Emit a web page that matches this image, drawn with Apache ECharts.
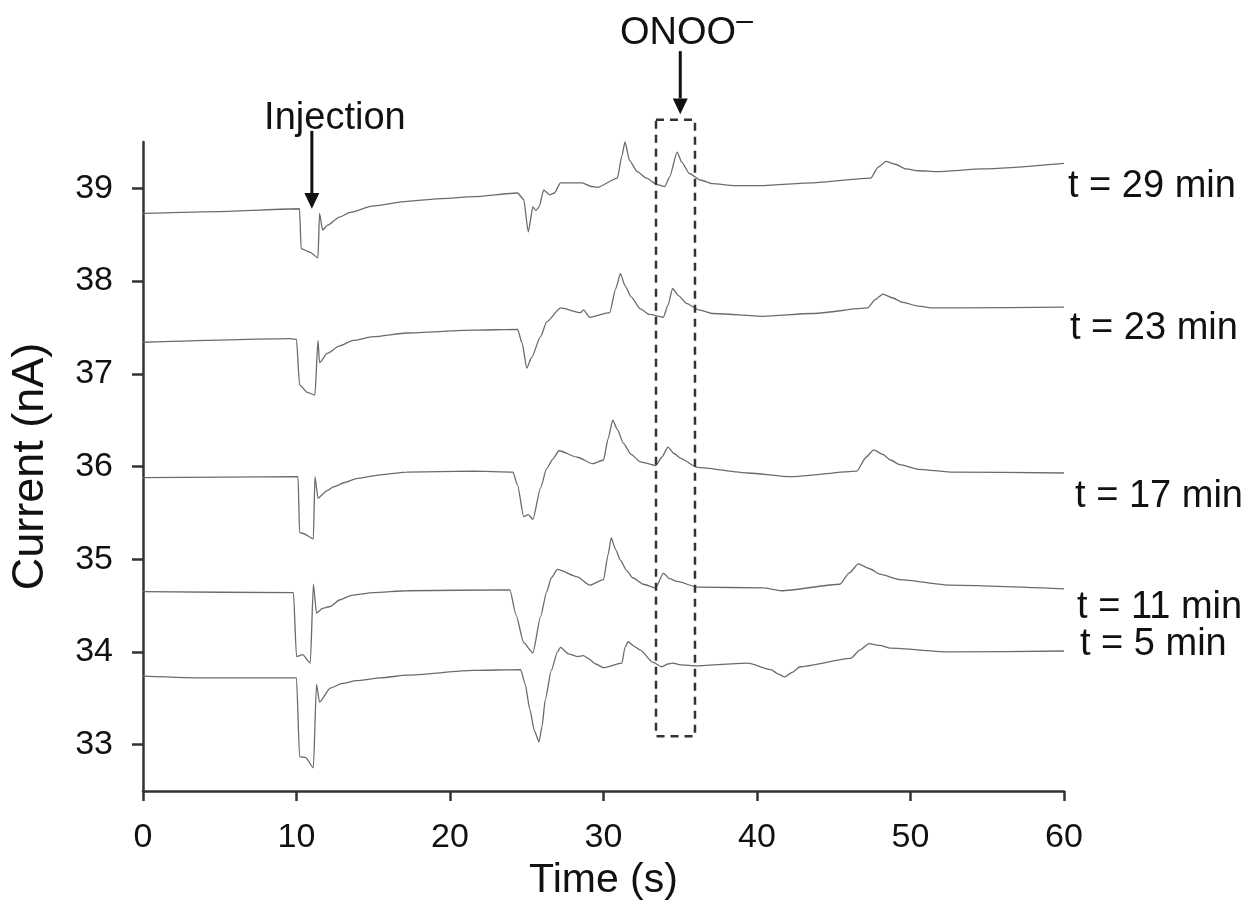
<!DOCTYPE html>
<html>
<head>
<meta charset="utf-8">
<title>Current traces</title>
<script src="https://cdn.jsdelivr.net/npm/echarts@6/dist/echarts.min.js"></script>
<style>
html, body { margin: 0; padding: 0; background: #fff; }
#chart { width: 1255px; height: 924px; }
</style>
</head>
<body>
<div id="chart"></div>
<script>
// values: time (s) and current (nA) for each trace
var time29 = [0, 5, 10.2, 10.3, 10.9, 11.4, 11.5, 11.7, 12.0, 12.8, 13.5, 15.0, 17.2, 19.5, 21.5, 24.4, 24.8, 25.1, 25.4, 25.6, 25.8, 26.1, 26.5, 26.8, 27.2, 28.6, 29.2, 29.6, 30.9, 31.2, 31.4, 31.7, 32.2, 32.8, 33.5, 34.0, 34.3, 34.8, 35.1, 35.6, 36.3, 37.1, 38.5, 40.4, 43.6, 47.4, 47.9, 48.4, 49.0, 49.7, 50.5, 51.7, 54.7, 60];
var cur29  = [38.73, 38.75, 38.78, 38.35, 38.31, 38.25, 38.73, 38.55, 38.60, 38.69, 38.74, 38.81, 38.86, 38.89, 38.91, 38.95, 38.88, 38.53, 38.80, 38.76, 38.80, 38.98, 38.93, 38.95, 39.06, 39.06, 39.02, 39.01, 39.11, 39.35, 39.50, 39.30, 39.18, 39.11, 39.04, 39.02, 39.12, 39.39, 39.28, 39.16, 39.09, 39.05, 39.03, 39.03, 39.06, 39.11, 39.23, 39.29, 39.26, 39.21, 39.19, 39.18, 39.21, 39.27];

var time23 = [0, 9.6, 10.0, 10.2, 10.7, 11.2, 11.4, 11.5, 12.0, 12.8, 13.7, 15.0, 17.2, 21.5, 24.4, 24.7, 25.0, 25.3, 25.9, 26.3, 27.2, 28.5, 28.7, 29.1, 30.4, 30.8, 31.1, 31.4, 31.8, 32.4, 33.0, 33.9, 34.2, 34.5, 34.9, 35.4, 36.2, 37.1, 40.4, 43.6, 47.2, 47.7, 48.2, 48.8, 49.5, 50.5, 51.5, 53.0, 60];
var cur23  = [37.34, 37.38, 37.37, 36.88, 36.80, 36.77, 37.36, 37.12, 37.22, 37.30, 37.36, 37.40, 37.44, 37.47, 37.48, 37.33, 37.06, 37.17, 37.40, 37.56, 37.71, 37.66, 37.69, 37.61, 37.66, 37.92, 38.08, 37.95, 37.83, 37.70, 37.64, 37.61, 37.74, 37.92, 37.84, 37.76, 37.69, 37.65, 37.62, 37.65, 37.71, 37.80, 37.86, 37.82, 37.77, 37.73, 37.71, 37.71, 37.72];

var time17 = [0, 10.1, 10.2, 10.4, 11.1, 11.2, 11.4, 12.0, 12.4, 13.2, 13.9, 15.5, 17.2, 21.5, 24.1, 24.4, 24.8, 25.1, 25.4, 25.9, 26.3, 26.7, 27.1, 28.3, 29.3, 30.0, 30.3, 30.6, 30.9, 31.3, 31.8, 32.4, 33.4, 33.8, 34.2, 34.6, 35.0, 36.1, 39.4, 42.2, 46.5, 47.1, 47.6, 48.2, 48.7, 49.3, 50.5, 52.6, 60];
var cur17  = [35.88, 35.89, 35.29, 35.28, 35.22, 35.89, 35.66, 35.74, 35.78, 35.83, 35.87, 35.91, 35.94, 35.95, 35.94, 35.80, 35.46, 35.48, 35.43, 35.77, 35.98, 36.08, 36.17, 36.10, 36.03, 36.07, 36.30, 36.50, 36.40, 36.25, 36.13, 36.05, 36.01, 36.10, 36.21, 36.14, 36.09, 35.99, 35.93, 35.89, 35.95, 36.10, 36.18, 36.13, 36.07, 36.02, 35.97, 35.94, 35.93];

var time11 = [0, 9.8, 10.0, 10.4, 10.9, 11.1, 11.3, 11.7, 12.2, 12.8, 13.6, 15.0, 17.2, 23.9, 24.3, 24.8, 25.4, 25.9, 26.3, 26.6, 27.0, 28.3, 29.1, 30.0, 30.3, 30.5, 30.8, 31.1, 31.5, 31.9, 32.6, 33.4, 33.9, 34.3, 34.8, 36.1, 40.4, 41.6, 45.4, 46.0, 46.6, 47.3, 48.0, 49.3, 52.6, 60];
var cur11  = [34.65, 34.64, 33.95, 33.97, 33.88, 34.73, 34.42, 34.47, 34.49, 34.56, 34.61, 34.64, 34.66, 34.67, 34.40, 34.10, 33.99, 34.38, 34.65, 34.80, 34.89, 34.81, 34.72, 34.78, 35.05, 35.23, 35.10, 34.99, 34.88, 34.80, 34.73, 34.69, 34.85, 34.79, 34.76, 34.70, 34.69, 34.66, 34.73, 34.85, 34.95, 34.90, 34.84, 34.78, 34.72, 34.68];

var time5 = [0, 4.2, 10.0, 10.2, 10.6, 11.1, 11.3, 11.5, 12.2, 13.0, 13.9, 15.5, 17.2, 21.5, 24.6, 24.9, 25.2, 25.5, 25.8, 26.0, 26.2, 26.6, 27.0, 27.2, 27.7, 28.3, 28.7, 29.0, 29.5, 30.0, 31.2, 31.4, 31.6, 32.0, 32.4, 33.2, 33.8, 34.2, 34.5, 35.0, 36.1, 39.4, 40.9, 41.4, 41.8, 42.3, 42.8, 46.1, 46.7, 47.3, 48.0, 48.7, 52.6, 60];
var cur5  = [33.74, 33.72, 33.72, 32.87, 32.86, 32.75, 33.65, 33.46, 33.61, 33.66, 33.69, 33.72, 33.75, 33.80, 33.81, 33.65, 33.38, 33.15, 33.03, 33.20, 33.48, 33.80, 34.00, 34.05, 33.98, 33.95, 33.96, 33.93, 33.87, 33.83, 33.88, 34.05, 34.11, 34.06, 34.02, 33.89, 33.84, 33.87, 33.88, 33.86, 33.85, 33.88, 33.81, 33.76, 33.73, 33.78, 33.84, 33.93, 34.02, 34.09, 34.07, 34.04, 34.00, 34.01];

var yTicks = [33, 34, 35, 36, 37, 38, 39];
var traceNames = ['t = 29 min', 't = 23 min', 't = 17 min', 't = 11 min', 't = 5 min'];

var FONT = '"Liberation Sans", Arial, sans-serif';

function pairs(t, c) {
  var out = [];
  for (var i = 0; i < t.length; i++) out.push([t[i], c[i]]);
  return out;
}

var traces = [pairs(time29, cur29), pairs(time23, cur23), pairs(time17, cur17), pairs(time11, cur11), pairs(time5, cur5)];

var chart = echarts.init(document.getElementById('chart'));

var series = traces.map(function (d, i) {
  return {
    name: traceNames[i],
    type: 'line',
    data: d,
    showSymbol: false,
    clip: false,
    smooth: 0.2,
    smoothMonotone: 'x',
    lineStyle: { color: '#6b6b6b', width: 1.3 }
  };
});

var axisColor = '#333';

chart.setOption({
  animation: false,
  grid: { left: 143, right: 191, top: 142, bottom: 133 },
  xAxis: {
    type: 'value',
    min: 0,
    max: 60,
    interval: 10,
    name: 'Time (s)',
    nameLocation: 'middle',
    nameGap: 68,
    nameTextStyle: { fontFamily: FONT, fontSize: 41, color: '#111' },
    axisLine: { show: true, lineStyle: { color: axisColor, width: 2.5 } },
    axisTick: { show: true, inside: false, length: 10, lineStyle: { color: axisColor, width: 2.5 } },
    axisLabel: { fontFamily: FONT, fontSize: 34, color: '#111', margin: 30 },
    splitLine: { show: false }
  },
  yAxis: {
    type: 'value',
    min: 32.5,
    max: 39.5,
    name: 'Current (nA)',
    nameLocation: 'middle',
    nameRotate: 90,
    nameGap: 90,
    nameTextStyle: { fontFamily: FONT, fontSize: 45, color: '#111' },
    axisLine: { show: true, lineStyle: { color: axisColor, width: 2.5 } },
    axisTick: { show: true, inside: false, length: 11, customValues: yTicks, lineStyle: { color: axisColor, width: 2.5 } },
    axisLabel: { fontFamily: FONT, fontSize: 34, color: '#111', margin: 30, customValues: yTicks },
    splitLine: { show: false }
  },
  series: series
});

// annotations, placed through the axes' own scales
function px(x, y) { return chart.convertToPixel({ gridIndex: 0 }, [x, y]); }

function arrow(x, yTop, yHead, yTip) {
  var a = px(x, yTop), b = px(x, yHead), c = px(x, yTip);
  return [
    { type: 'line', shape: { x1: a[0], y1: a[1], x2: b[0], y2: b[1] }, style: { stroke: '#111', lineWidth: 3 } },
    { type: 'polygon', shape: { points: [[b[0] - 7.5, b[1]], [b[0] + 7.5, b[1]], [c[0], c[1]]] }, style: { fill: '#111' } }
  ];
}

function label(text, x, y, align) {
  var p = px(x, y);
  return {
    type: 'text', x: p[0], y: p[1],
    style: { text: text, fontFamily: FONT, fontSize: 38, fill: '#111', align: align || 'center', verticalAlign: 'middle' }
  };
}

var g = [];
g = g.concat(arrow(11.0, 39.62, 38.95, 38.78));
g = g.concat(arrow(35.0, 40.48, 39.97, 39.80));
var r1 = px(33.42, 39.74), r2 = px(35.96, 33.09);
g.push({
  type: 'rect',
  shape: { x: r1[0], y: r1[1], width: r2[0] - r1[0], height: r2[1] - r1[1] },
  style: { fill: 'none', stroke: '#333', lineWidth: 2.5, lineDash: [8, 6] }
});
g.push(label('Injection', 12.5, 39.75));
g.push(label('ONOO', 34.85, 40.67));
var m = px(38.65, 40.80);
g.push({ type: 'text', x: m[0], y: m[1], style: { text: '\u2013', fontFamily: FONT, fontSize: 30, fill: '#111', align: 'left', verticalAlign: 'middle' } });

var nameX = [60.26, 60.39, 60.72, 60.85, 61.04];
var nameY = [39.02, 37.49, 35.68, 34.48, 34.08];
for (var i = 0; i < traceNames.length; i++) g.push(label(traceNames[i], nameX[i], nameY[i], 'left'));

chart.setOption({ graphic: g.map(function (e) { e.z = 100; return e; }) });
</script>
</body>
</html>
